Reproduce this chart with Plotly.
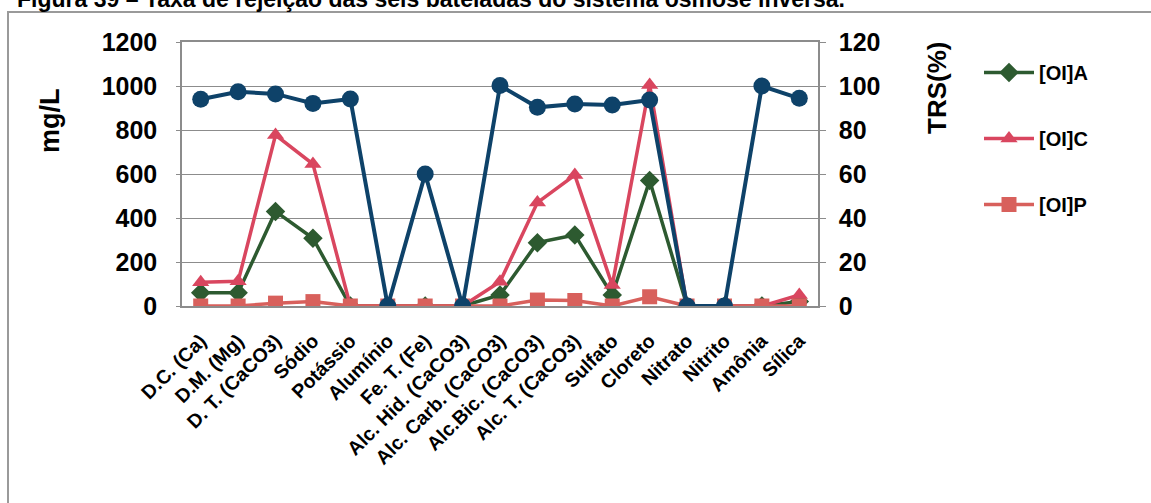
import plotly.graph_objects as go

categories = ["D.C. (Ca)", "D.M. (Mg)", "D. T. (CaCO3)", "Sódio", "Potássio", "Alumínio",
              "Fe. T. (Fe)", "Alc. Hid. (CaCO3)", "Alc. Carb. (CaCO3)", "Alc.Bic. (CaCO3)",
              "Alc. T. (CaCO3)", "Sulfato", "Cloreto", "Nitrato", "Nitrito", "Amônia", "Sílica"]

oi_a = [60, 60, 430, 308, 0, 0, 0, 0, 50, 288, 323, 50, 570, 0, 0, 0, 20]
oi_c = [108, 112, 777, 645, 0, 0, 0, 0, 110, 470, 595, 95, 1005, 0, 0, 0, 50]
oi_p = [0, 0, 13, 20, 0, 0, 0, 0, 0, 27, 25, 0, 42, 0, 0, 0, 0]
trs = [94.0, 97.4, 96.4, 92.1, 94.1, 0, 60.0, 0, 100.2, 90.3, 91.8, 91.4, 93.6, 0, 0, 100.0, 94.4]

left_ticks = [0, 200, 400, 600, 800, 1000, 1200]
right_ticks = [0, 20, 40, 60, 80, 100, 120]

W, H = 1151, 503
L, R, T, B = 182, 818, 42, 306
PW, PH = R - L, B - T


def px(x):
    return (x - L) / PW


def py(y):
    return (B - y) / PH


FONT = "Arial, 'Liberation Sans', sans-serif"
BLUE = "#0e4269"
GREEN = "#2d5a30"
RED = "#d9465f"
SALMON = "#d8605c"
GRID = "#8c8c8c"

fig = go.Figure()
fig.add_trace(go.Scatter(x=categories, y=oi_a, name="[OI]A", mode="lines+markers",
                         line=dict(color=GREEN, width=3.5),
                         marker=dict(symbol="diamond", size=15, color=GREEN),
                         legendgroup="a"))
fig.add_trace(go.Scatter(x=categories, y=oi_c, name="[OI]C", mode="lines+markers",
                         line=dict(color=RED, width=3.5),
                         marker=dict(symbol="triangle-up", size=15, color=RED),
                         legendgroup="c"))
fig.add_trace(go.Scatter(x=categories, y=oi_p, name="[OI]P", mode="lines+markers",
                         line=dict(color=SALMON, width=3.5),
                         marker=dict(symbol="square", size=15, color=SALMON),
                         legendgroup="p"))
fig.add_trace(go.Scatter(x=categories, y=trs, name="TRS", mode="lines+markers",
                         line=dict(color=BLUE, width=4),
                         marker=dict(symbol="circle", size=17, color=BLUE),
                         yaxis="y2", showlegend=False))

fig.update_layout(
    width=W, height=H, autosize=False,
    margin=dict(l=L, r=W - R, t=T, b=H - B, pad=0),
    paper_bgcolor="white", plot_bgcolor="white",
    font=dict(family=FONT, color="black", size=20, weight="bold"),
    xaxis=dict(type="category", categoryorder="array", categoryarray=categories,
               range=[-0.5, len(categories) - 0.5],
               tickangle=-45, showgrid=False, showline=True, linecolor=GRID,
               linewidth=1.5, mirror=True, ticks="", automargin=False,
               ticklabelstandoff=14,
               tickfont=dict(size=19.5, family=FONT, weight="bold", color="black")),
    yaxis=dict(range=[0, 1200], tickvals=left_ticks, showgrid=True, gridcolor=GRID,
               gridwidth=1.3, showline=True, linecolor=GRID, linewidth=1.5,
               ticks="outside", ticklen=4, tickcolor=GRID, zeroline=False,
               automargin=False, ticklabelstandoff=14,
               tickfont=dict(size=25, family=FONT, weight="bold", color="black")),
    yaxis2=dict(range=[0, 120], tickvals=right_ticks, overlaying="y", side="right",
                showgrid=False, showline=True, linecolor=GRID, linewidth=1.5,
                ticks="outside", ticklen=6, tickcolor=GRID, zeroline=False,
                automargin=False, ticklabelstandoff=8,
                tickfont=dict(size=25, family=FONT, weight="bold", color="black")),
    legend=dict(x=px(979), y=py(53), xanchor="left", yanchor="top",
                traceorder="grouped", tracegroupgap=37, itemwidth=50,
                font=dict(size=20, family=FONT, weight="bold", color="black"),
                bgcolor="rgba(0,0,0,0)"),
    showlegend=True,
)

fig.add_annotation(text="Figura 39 – Taxa de rejeição das seis bateladas do sistema osmose inversa.",
                   xref="paper", yref="paper", x=px(15), y=py(-1), xanchor="left",
                   yanchor="middle", showarrow=False,
                   font=dict(size=23, family=FONT, weight="bold", color="black"))
fig.add_annotation(text="mg/L", xref="paper", yref="paper", x=px(50), y=py(121),
                   xanchor="center", yanchor="middle", textangle=-90, showarrow=False,
                   font=dict(size=27, family=FONT, weight="bold", color="black"))
fig.add_annotation(text="TRS(%)", xref="paper", yref="paper", x=px(937), y=py(88),
                   xanchor="center", yanchor="middle", textangle=-90, showarrow=False,
                   font=dict(size=26, family=FONT, weight="bold", color="black"))

fig.add_shape(type="rect", xref="paper", yref="paper",
              x0=px(8), y0=py(520), x1=px(1170), y1=py(12),
              line=dict(color="#9a9a9a", width=2), fillcolor="rgba(0,0,0,0)", layer="below")

fig.write_html("out.html")
